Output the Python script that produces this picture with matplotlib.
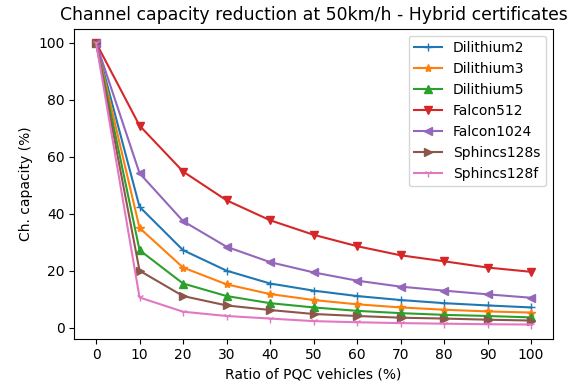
import numpy as np
import matplotlib.pyplot as plt

#############
# Chart data #
#############

ratio = [0, 10, 20, 30, 40, 50, 60, 70, 80, 90, 100]

dilithium2 = [100, 42.4, 27.2, 20.0, 15.5, 13.0, 11.1, 9.7, 8.6, 7.8, 7.1]
dilithium3 = [100, 35.0, 21.1, 15.2, 11.8, 9.7, 8.2, 7.1, 6.3, 5.7, 5.3]
dilithium5 = [100, 27.2, 15.5, 11.1, 8.6, 7.1, 5.9, 5.1, 4.5, 4.1, 3.6]
falcon512 = [100, 70.9, 54.8, 44.7, 37.7, 32.6, 28.6, 25.4, 23.3, 21.1, 19.6]
falcon1024 = [100, 54.2, 37.4, 28.4, 23.0, 19.4, 16.5, 14.4, 13.0, 11.7, 10.5]
sphincs128s = [100, 20.0, 11.1, 7.8, 6.2, 4.8, 4.1, 3.5, 3.2, 2.8, 2.5]
sphincs128f = [100, 10.6, 5.6, 4.1, 3.2, 2.3, 1.9, 1.6, 1.4, 1.2, 1.1]

##################
# Visualize Data #
##################

fig = plt.figure(figsize=(5.85, 3.87), dpi=100)
ax = fig.add_axes([0.127, 0.125, 0.818, 0.801])

ax.plot(ratio, dilithium2, marker='+', label='Dilithium2')
ax.plot(ratio, dilithium3, marker='*', label='Dilithium3')
ax.plot(ratio, dilithium5, marker='^', label='Dilithium5')
ax.plot(ratio, falcon512, marker='v', label='Falcon512')
ax.plot(ratio, falcon1024, marker='<', label='Falcon1024')
ax.plot(ratio, sphincs128s, marker='>', label='Sphincs128s')
ax.plot(ratio, sphincs128f, marker='1', label='Sphincs128f')

ax.set_xticks(ratio)
ax.set_xlabel('Ratio of PQC vehicles (%)')
ax.set_ylabel('Ch. capacity (%)')
ax.set_title('Channel capacity reduction at 50km/h - Hybrid certificates', fontsize=12.4)
ax.legend(loc='upper right')

fig.savefig('out.png')
